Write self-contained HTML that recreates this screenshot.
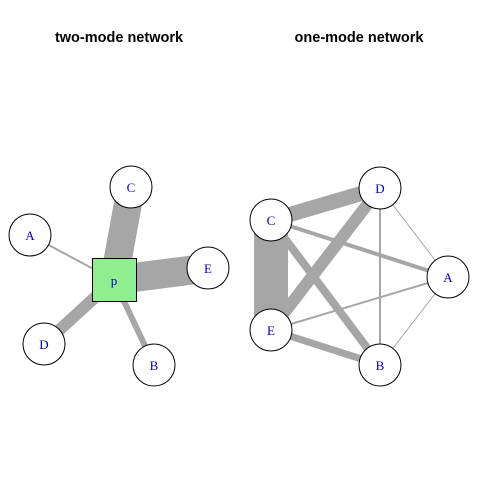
<!DOCTYPE html>
<html><head><style>body{margin:0;background:#fff}svg{display:block}</style></head><body>
<svg width="480" height="480" xmlns="http://www.w3.org/2000/svg">
<g font-family="Liberation Sans, sans-serif" font-weight="bold" font-size="14.5" text-anchor="middle">
<text x="119" y="42">two-mode network</text>
<text x="359" y="42">one-mode network</text>
</g>
<g stroke="#a6a6a6" stroke-linecap="butt">
<line x1="114" y1="280" x2="131" y2="187" stroke-width="28"/>
<line x1="114" y1="280" x2="208" y2="268" stroke-width="29"/>
<line x1="114" y1="280" x2="44" y2="344" stroke-width="12"/>
<line x1="114" y1="280" x2="154" y2="365" stroke-width="6"/>
<line x1="114" y1="280" x2="30" y2="235" stroke-width="2"/>
<line x1="271" y1="220" x2="271" y2="330" stroke-width="34"/>
<line x1="271" y1="220" x2="380" y2="188" stroke-width="15"/>
<line x1="271" y1="330" x2="380" y2="188" stroke-width="12"/>
<line x1="271" y1="220" x2="380" y2="365" stroke-width="8"/>
<line x1="271" y1="330" x2="380" y2="365" stroke-width="7"/>
<line x1="271" y1="220" x2="448" y2="277" stroke-width="4"/>
<line x1="380" y1="188" x2="380" y2="365" stroke-width="2"/>
<line x1="271" y1="330" x2="448" y2="277" stroke-width="2"/>
<line x1="380" y1="188" x2="448" y2="277" stroke-width="1"/>
<line x1="380" y1="365" x2="448" y2="277" stroke-width="1"/>
</g>
<g fill="#fff" stroke="#000" stroke-width="1">
<circle cx="131" cy="187" r="21"/><circle cx="30" cy="235" r="21"/>
<circle cx="208" cy="268" r="21"/><circle cx="44" cy="344" r="21"/>
<circle cx="154" cy="365" r="21"/>
<rect x="92.5" y="258.5" width="44" height="43" fill="#90ee90"/>
<circle cx="380" cy="188" r="21"/><circle cx="271" cy="220" r="21"/>
<circle cx="448" cy="277" r="21"/><circle cx="271" cy="330" r="21"/>
<circle cx="380" cy="365" r="21"/>
</g>
<g font-family="Liberation Serif, serif" font-size="13" fill="#0000bb" text-anchor="middle">
<text x="131" y="192">C</text><text x="30" y="240">A</text><text x="208" y="273">E</text>
<text x="44" y="349">D</text><text x="154" y="370">B</text><text x="114" y="285">p</text>
<text x="380" y="193">D</text><text x="271" y="225">C</text><text x="448" y="282">A</text>
<text x="271" y="335">E</text><text x="380" y="370">B</text>
</g>
</svg>
</body></html>
